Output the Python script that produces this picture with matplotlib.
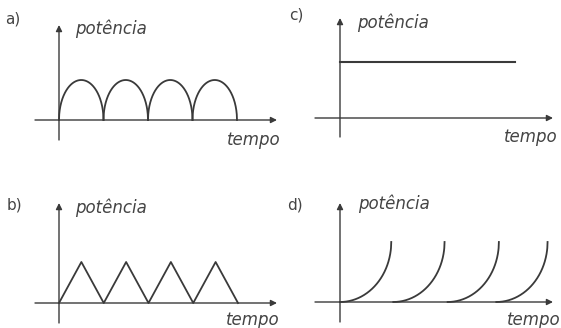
import numpy as np
import matplotlib
matplotlib.use("Agg")
import matplotlib.pyplot as plt

W, H = 561, 328

# ---- data (time in periods, power in arbitrary units) ----
n_pulses = 4
arch_starts = [0, 1, 2, 3]          # a) half-wave arches
arch_height = 1.0
tri_t = [0, 0.5, 1, 1.5, 2, 2.5, 3, 3.5, 4]   # b) triangular pulses
tri_p = [0, 1, 0, 1, 0, 1, 0, 1, 0]
const_t = [0, 3.93]                 # c) constant power
const_p = [1.4, 1.4]
ramp_starts = [0, 1.04, 2.1, 3.05]  # d) rising ramps
ramp_width = 1.0
ramp_height = 1.5

y_label = "potência"
x_label = "tempo"
panel_tags = ["a)", "b)", "c)", "d)"]

col = "#3a3a3a"
txt = "#444444"


def px(x, y):
    return x / W, 1 - y / H


def make_panel(origin, ux, uy, box):
    # box = (left, top, right, bottom) in image pixels
    l, t, r, b = box
    ax = fig.add_axes([l / W, 1 - b / H, (r - l) / W, (b - t) / H])
    ox, oy = origin
    ax.set_xlim((l - ox) / ux, (r - ox) / ux)
    ax.set_ylim((oy - b) / uy, (oy - t) / uy)
    ax.axis("off")
    return ax


def draw_axes(ax, origin, ux, uy, hx, vy):
    ox, oy = origin
    x0, x1 = (hx[0] - ox) / ux, (hx[1] - ox) / ux
    y0, y1 = (oy - vy[0]) / uy, (oy - vy[1]) / uy
    ap = dict(arrowstyle="-|>", color=col, lw=1.0, mutation_scale=9,
              shrinkA=0, shrinkB=0)
    ax.annotate("", xy=(x1, 0), xytext=(x0, 0), arrowprops=ap)
    ax.annotate("", xy=(0, y1), xytext=(0, y0), arrowprops=ap)


fig = plt.figure(figsize=(W / 100, H / 100), dpi=100)
fig.patch.set_facecolor("white")

# a)
oa, uxa, uya = (59, 120), 44.5, 40
ax = make_panel(oa, uxa, uya, (20, 10, 290, 155))
draw_axes(ax, oa, uxa, uya, (35, 277), (140, 25))
for s in arch_starts:
    u = np.linspace(-1, 1, 200)
    ax.plot(s + 0.5 + 0.5 * u, arch_height * np.sqrt(1 - u ** 2), color=col, lw=1.3)

# b)
ob, uxb, uyb = (59, 303), 44.75, 41
ax = make_panel(ob, uxb, uyb, (20, 190, 290, 328))
draw_axes(ax, ob, uxb, uyb, (35, 277), (323, 203))
ax.plot(tri_t, tri_p, color=col, lw=1.3)

# c)
oc, uxc, uyc = (340, 118), 44.5, 40
ax = make_panel(oc, uxc, uyc, (300, 10, 561, 155))
draw_axes(ax, oc, uxc, uyc, (315, 553), (137, 18))
ax.plot(const_t, const_p, color=col, lw=1.5)

# d)
od, uxd, uyd = (340, 302), 51.25, 40
ax = make_panel(od, uxd, uyd, (300, 190, 561, 328))
draw_axes(ax, od, uxd, uyd, (315, 553), (322, 203))
for s in ramp_starts:
    v = np.linspace(0, 1, 200)
    ax.plot(s + ramp_width * v, ramp_height * (1 - np.sqrt(1 - v ** 2)),
            color=col, lw=1.3)

# labels
tag_pos = [(13, 19), (14, 205), (296, 15), (295, 205)]
ylab_pos = [(75, 29), (75, 208), (357, 23), (358, 204)]
xlab_pos = [(227, 140), (226, 320), (504, 137), (507, 320)]
for tag, tp, yp, xp in zip(panel_tags, tag_pos, ylab_pos, xlab_pos):
    fig.text(*px(*tp), tag, fontsize=11, color=txt, ha="center", va="center")
    fig.text(*px(*yp), y_label, fontsize=12, style="italic", color=txt,
             ha="left", va="center")
    fig.text(*px(*xp), x_label, fontsize=12, style="italic", color=txt,
             ha="left", va="center")

fig.savefig("out.png", dpi=100, facecolor="white")
